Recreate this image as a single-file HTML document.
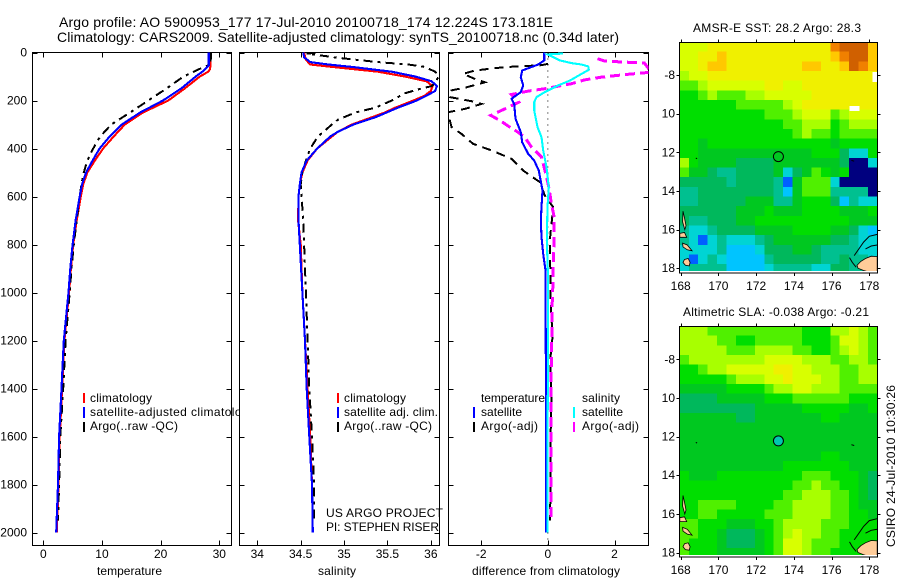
<!DOCTYPE html>
<html>
<head>
<meta charset="utf-8">
<title>Argo profile</title>
<style>
html,body{margin:0;padding:0;background:#fff;}
svg{display:block;}
text{font-family:"Liberation Sans",sans-serif;font-size:12px;fill:#000;}
</style>
</head>
<body>
<svg id="chart" xmlns="http://www.w3.org/2000/svg" width="900" height="580" viewBox="0 0 900 580">
<defs>
<clipPath id="clip-temp"><rect x="32.5" y="52.5" width="199" height="493"/></clipPath>
<clipPath id="clip-sal"><rect x="239.5" y="52.5" width="200" height="493"/></clipPath>
<clipPath id="clip-diff"><rect x="448.5" y="52.5" width="200" height="493"/></clipPath>
<clipPath id="clip-sst"><rect x="679.5" y="42" width="198" height="229"/></clipPath>
<clipPath id="clip-sla"><rect x="679.5" y="326" width="198" height="229"/></clipPath>
</defs>
<rect width="900" height="580" fill="#fff"/>

<g id="panel-temp">
  <g id="marks-temp"></g>
  <text x="97" y="575" textLength="65">temperature</text>
  <rect x="83" y="393" width="2" height="10" fill="#f00"/>
  <rect x="83" y="407" width="2" height="11" fill="#00f"/>
  <rect x="83" y="422" width="2" height="10" fill="#000"/>
  <text x="90" y="402" textLength="62">climatology</text>
  <text x="90" y="416" textLength="165">satellite-adjusted climatology</text>
  <text x="90" y="430" textLength="88">Argo(..raw -QC)</text>
</g>

<g id="panel-sal">
  <rect x="239" y="48" width="201" height="498" fill="#fff"/>
  <g id="marks-sal"></g>
  <text x="318" y="575" textLength="38">salinity</text>
  <rect x="337" y="393" width="2" height="10" fill="#f00"/>
  <rect x="337" y="407" width="2" height="11" fill="#00f"/>
  <rect x="337" y="422" width="2" height="10" fill="#000"/>
  <text x="344" y="402" textLength="62">climatology</text>
  <text x="344" y="416" textLength="94">satellite adj. clim.</text>
  <text x="344" y="430" textLength="88">Argo(..raw -QC)</text>
  <text x="326" y="517" textLength="117">US ARGO PROJECT</text>
  <text x="326" y="531" textLength="113">PI: STEPHEN RISER</text>
</g>

<g id="panel-diff">
  <rect x="448" y="48" width="201" height="498" fill="#fff"/>
  <g id="marks-diff"></g>
  <text x="472" y="575" textLength="148">difference from climatology</text>
  <text x="481" y="402" textLength="64">temperature</text>
  <rect x="473" y="407" width="2" height="11" fill="#00f"/>
  <rect x="473" y="422" width="2" height="10" fill="#000"/>
  <text x="481" y="416" textLength="41">satellite</text>
  <text x="481" y="430" textLength="57">Argo(-adj)</text>
  <text x="582" y="402" textLength="38">salinity</text>
  <rect x="573" y="407" width="2" height="11" fill="#0ff"/>
  <rect x="573" y="422" width="2" height="10" fill="#f0f"/>
  <text x="582" y="416" textLength="41">satellite</text>
  <text x="582" y="430" textLength="57">Argo(-adj)</text>
</g>

<text x="59" y="27" style="font-size:14px" textLength="494">Argo profile: AO 5900953_177 17-Jul-2010 20100718_174 12.224S 173.181E</text>
<text x="57" y="42" style="font-size:14px" textLength="562">Climatology: CARS2009. Satellite-adjusted climatology: synTS_20100718.nc (0.34d later)</text>

<text x="693" y="32" textLength="168">AMSR-E SST: 28.2 Argo: 28.3</text>
<g id="map-sst"></g>
<text x="683" y="316" textLength="186">Altimetric SLA: -0.038 Argo: -0.21</text>
<g id="map-sla"></g>
<text transform="translate(895,547) rotate(-90)" textLength="162">CSIRO 24-Jul-2010 10:30:26</text>
</svg>

<script>
// ---- profile data ----
var depthTicks = [0,200,400,600,800,1000,1200,1400,1600,1800,2000];
var tempTicks = [0,10,20,30];
var salTicks = [34,34.5,35,35.5,36];
var salTickLabels = ['34','34.5','35','35.5','36'];
var diffTicks = [-2,0,2];

var tempDepths = [0,55,70,80,100,150,200,250,300,350,400,450,500,550,600,700,800,900,1000,1200,1400,1600,1800,2000];
var tempClim = [28.5,28.5,28.4,28.1,26.7,24.1,21.3,17,13.9,12,10.2,8.8,7.5,6.8,6.4,5.7,5.1,4.7,4.4,3.6,3.2,2.8,2.6,2.3];
var tempSat = [28.2,28.2,27.6,27.1,26,23.5,20.4,16.5,13.4,11.3,9.6,8.4,7.3,6.6,6.2,5.5,5,4.6,4.3,3.5,3.1,2.7,2.5,2.2];
var tempArgoDepths = [0,50,68,100,150,200,250,300,350,400,450,500,550,600,700,800,900,1000,1200,1400,1600,1800,1950];
var tempArgo = [28.6,28.5,26.7,23.9,21,17.9,14.8,11.6,9.7,8.5,7.5,6.9,6.5,6.2,5.7,5.2,4.8,4.5,3.8,3.4,2.9,2.7,2.5];

var salDepths = [0,30,50,60,80,100,120,140,160,180,200,230,250,270,300,330,350,400,450,500,550,600,700,800,1000,1200,1400,1600,1800,2000];
var salClim = [34.54,34.56,34.61,34.86,35.39,35.70,35.95,36.02,36.0,35.93,35.80,35.59,35.47,35.32,35.09,34.93,34.86,34.69,34.58,34.52,34.49,34.475,34.47,34.50,34.52,34.55,34.58,34.61,34.63,34.64];
var salSatDepths = [0,20,40,50,60,80,100,120,140,160,180,200,230,250,270,300,330,350,400,450,500,550,600,700,800,1000,1200,1400,1600,1800,2000];
var salSat = [34.53,34.54,34.61,34.82,35.09,35.55,35.82,36.01,36.07,36.05,35.95,35.84,35.62,35.49,35.36,35.11,34.93,34.84,34.69,34.57,34.51,34.49,34.475,34.475,34.49,34.52,34.55,34.57,34.60,34.63,34.64];
var salArgoDepths = [2,4,22,40,50,60,80,100,120,140,150,170,200,230,250,280,300,350,400,450,500,550,600,700,800,1000,1200,1400,1600,1800,1950];
var salArgo = [34.67,34.57,34.93,35.39,35.74,35.93,36.05,36.09,36.06,36.01,35.89,35.7,35.55,35.36,35.13,34.93,34.86,34.7,34.61,34.56,34.52,34.5,34.51,34.53,34.54,34.56,34.58,34.60,34.63,34.655,34.655];

var diffBlueDepths = [0,33,50,75,103,137,165,193,214,276,332,374,422,450,492,575,644,700,769,839,908,1256,1300,2000];
var diffBlue = [-0.11,-0.11,-0.29,-0.77,-0.81,-0.74,-0.81,-1.09,-1.01,-0.97,-0.81,-0.77,-0.59,-0.41,-0.27,-0.16,-0.19,-0.21,-0.19,-0.14,-0.07,-0.06,-0.05,-0.05];
var diffCyanDepths = [4,8,33,44,50,58,72,89,117,137,165,186,207,242,311,353,408,478,561,644,783,908,1186,1617,2000];
var diffCyan = [0.46,0.0,0.36,0.71,1.01,1.21,1.23,1.01,0.66,0.31,-0.09,-0.34,-0.41,-0.41,-0.31,-0.19,-0.14,-0.04,0.03,-0.01,-0.03,0.0,0.01,-0.01,-0.01];
var diffMagentaDepths = [26,36,44,82,92,103,114,130,151,161,175,207,235,262,283,311,328,353,394,436,505,561,631,686,783,839,978,1047,1186,1325,1464,1603,1950];
var diffMagenta = [1.49,1.71,2.9,3.1,2.31,1.6,1.1,0.71,-0.09,-0.59,-1.09,-0.87,-1.29,-1.71,-1.44,-1.14,-0.94,-0.69,-0.49,-0.19,-0.06,0.03,0.11,0.19,0.19,0.17,0.15,0.13,0.12,0.1,0.1,0.1,0.09];
var diffBlackDepths = [47,53,61,75,89,110,124,145,158,186,203,214,235,249,311,339,381,408,443,492,540,596,644,714,783,880,1047,1186,1280,1464,1603,1950];
var diffBlack = [0.01,-0.19,-1.29,-2.19,-2.54,-2.19,-1.89,-2.44,-2.89,-2.94,-2.29,-1.99,-2.49,-3,-2.89,-2.59,-2.24,-1.69,-1.09,-0.74,-0.24,-0.09,0.16,0.11,0.06,0.07,0.09,0.14,0.07,0.11,0.08,0.07];

// ---- map data: colour-level grid, 0.5 degree cells, north to south ----
var mapLonTicks = [168,170,172,174,176,178];
var mapLatTicks = [-8,-10,-12,-14,-16,-18];
var mapLatLabels = ['-8','10','12','14','16','18'];
var levelColors = ['#00007f','#0060ff','#00c4ff','#00d4d4','#00c090','#00b85c','#00c820','#00de00','#50f000','#a8ff00','#d8ff00','#f0f000','#ffc800','#f08000','#d06000','#ffffff'];

var sstRows = [
[10,10,10,11,11,11,11,11,11,11,11,11,11,11,11,11,13,14,14,14,12],
[10,10,11,11,12,11,11,11,11,11,11,11,11,11,11,11,12,13,14,14,12],
[10,10,11,12,12,11,11,11,11,11,11,11,11,12,12,11,11,12,14,13,12],
[9,10,10,11,11,11,11,11,11,11,11,11,11,11,11,11,11,11,11,11,11],
[8,8,9,10,10,10,10,10,10,11,11,10,10,11,11,11,11,11,11,11,11],
[7,7,8,9,8,8,8,9,9,10,10,10,10,10,11,11,11,11,11,11,11],
[7,7,7,7,7,7,8,8,8,8,8,9,10,11,11,11,11,11,11,11,11],
[7,7,7,7,7,7,7,7,7,8,8,8,9,10,10,10,8,9,10,10,10],
[7,7,7,7,7,7,7,7,7,7,7,8,8,9,9,9,7,8,9,9,9],
[7,7,7,7,7,7,7,7,7,7,7,7,8,9,8,8,7,8,8,8,8],
[7,7,6,7,7,7,7,7,7,7,7,7,7,7,7,7,6,7,7,7,7],
[7,7,6,6,6,6,6,6,6,6,6,6,6,6,7,7,7,5,3,3,7],
[9,7,6,6,6,6,5,5,5,5,6,6,6,6,6,6,6,5,0,0,3],
[8,6,6,5,4,4,5,5,5,5,6,3,5,6,8,7,6,7,0,0,0],
[5,5,5,5,5,4,5,5,5,5,4,1,6,8,8,8,3,0,0,0,0],
[4,4,5,5,5,5,5,5,5,5,4,2,6,8,8,8,4,4,4,4,0],
[4,4,5,5,5,5,5,6,6,6,4,4,6,7,7,7,5,2,4,3,3],
[5,5,5,5,5,5,6,6,6,7,6,6,6,7,7,7,7,6,6,6,7],
[5,4,4,5,5,5,6,6,7,7,7,7,7,7,7,7,7,7,6,6,6],
[4,3,3,4,5,5,5,5,6,6,6,6,7,7,7,7,6,6,5,3,2],
[4,3,1,3,4,3,3,3,4,5,6,6,6,6,6,6,5,5,4,3,3],
[3,3,3,3,4,2,2,2,3,5,5,5,6,6,5,4,4,4,4,3,3],
[3,1,3,4,3,2,2,2,2,4,5,5,5,5,5,4,4,5,4,4,3],
[3,4,4,4,4,2,2,2,2,3,4,4,4,4,3,3,5,5,4,4,3]
];
var slaRows = [
[9,9,9,8,8,8,8,8,8,8,8,8,8,7,7,7,9,9,10,9,8],
[9,9,9,9,8,8,7,7,8,8,8,8,8,7,7,7,8,10,10,9,8],
[9,9,9,9,9,8,8,8,9,9,9,9,8,8,7,7,8,9,10,9,8],
[8,9,9,9,9,9,9,9,9,10,10,10,10,9,9,9,8,8,9,9,8],
[7,7,8,9,9,10,10,10,10,10,11,11,10,10,9,9,9,8,8,9,9],
[7,7,7,7,7,8,9,9,9,10,10,11,10,10,10,9,9,8,8,9,9],
[6,6,6,6,6,7,7,7,7,8,9,9,10,10,9,9,9,8,8,8,8],
[5,5,5,5,6,6,6,6,6,7,7,7,8,8,8,8,8,8,7,7,7],
[5,5,5,5,5,5,5,5,6,6,6,6,6,7,7,7,7,7,6,6,7],
[6,6,6,6,6,6,5,5,6,6,6,6,6,6,6,7,7,6,6,6,6],
[6,6,6,6,6,6,6,6,6,6,6,6,6,6,6,6,6,6,6,6,6],
[6,6,6,6,6,6,6,6,6,6,6,6,6,6,6,6,6,6,6,6,6],
[6,6,6,6,6,6,6,6,6,6,6,6,6,6,6,6,6,6,6,6,6],
[6,6,6,6,6,6,6,6,6,6,6,6,6,6,6,7,7,6,6,6,6],
[6,6,6,6,6,6,6,6,6,6,6,7,7,7,7,7,7,7,6,6,6],
[7,6,6,6,7,7,7,7,7,7,7,7,7,8,8,8,7,7,7,6,5],
[7,7,7,7,7,7,7,7,7,7,7,7,8,8,9,8,8,7,7,6,5],
[7,7,7,7,7,7,7,7,7,7,7,8,8,9,9,9,8,8,7,6,5],
[7,7,8,8,8,8,7,7,7,7,8,8,9,9,9,9,8,8,7,6,6],
[7,7,8,8,7,7,7,7,7,8,8,8,9,9,9,9,8,8,7,7,6],
[8,8,7,7,7,6,6,6,7,7,8,9,9,9,9,8,8,8,7,7,7],
[8,8,7,7,6,5,5,5,6,7,8,9,10,9,9,8,8,7,7,7,7],
[8,7,7,7,6,5,5,5,6,7,8,10,10,9,8,8,8,7,7,7,7],
[8,7,7,7,6,6,6,6,6,7,8,10,10,9,8,8,7,7,7,7,7]
];
// missing-data patches in the SST map: west lon, east lon, north lat, south lat
var sstMissingWest = [176.95,178.17];
var sstMissingEast = [177.47,178.42];
var sstMissingNorth = [-9.6,-7.85];
var sstMissingSouth = [-9.86,-8.37];

var landLonLat = [
 [[178.42,-17.4],[178.1,-17.38],[177.8,-17.5],[177.55,-17.65],[177.35,-17.85],[177.4,-18.0],[177.7,-18.12],[178.0,-18.2],[178.42,-18.2]],
 [[168.2,-17.55],[168.4,-17.5],[168.5,-17.7],[168.45,-17.88],[168.25,-17.85],[168.12,-17.7]],
 [[168.12,-15.05],[168.2,-15.4],[168.28,-15.8],[168.22,-16.0],[168.1,-15.6]],
 [[167.95,-16.2],[168.2,-16.15],[168.32,-16.4],[167.95,-16.4]],
 [[168.1,-16.7],[168.35,-16.8],[168.6,-17.1],[168.35,-17.05],[168.12,-16.9]]
];
var coastLonLat = [
 [[177.2,-17.35],[177.45,-17.0],[177.7,-16.65],[178.0,-16.35],[178.42,-16.25]],
 [[177.8,-17.0],[178.1,-16.85],[178.42,-16.8]],
 [[176.95,-17.45],[177.1,-17.7],[177.3,-17.95]],
 [[168.8,-12.3],[168.87,-12.33]],
 [[177.05,-12.42],[177.2,-12.46]]
];
var argoLon = 173.181;
var argoLat = -12.224;

// ---- helpers ----
var NS = 'http://www.w3.org/2000/svg';
function scale(d0, d1, r0, r1) {
  return function (v) { return r0 + (v - d0) * (r1 - r0) / (d1 - d0); };
}
function make(parent, tag, attrs) {
  var el = document.createElementNS(NS, tag);
  for (var k in attrs) el.setAttribute(k, attrs[k]);
  parent.appendChild(el);
  return el;
}
var yDepth = scale(0, 2054, 52.5, 545.5);

function drawProfile(g, clip, xf, depths, vals, color, width, dash, name) {
  var pts = [];
  for (var i = 0; i < vals.length; i++) pts.push(xf(vals[i]).toFixed(1) + ',' + yDepth(depths[i]).toFixed(1));
  var el = make(g, 'polyline', {points: pts.join(' '), fill: 'none', stroke: color, 'stroke-width': width, 'shape-rendering': 'crispEdges', 'clip-path': 'url(#' + clip + ')'});
  if (dash) el.setAttribute('stroke-dasharray', dash);
  
  
}

function drawPanelAxes(g, left, right, xf, ticks, labels, showDepthLabels, panelName) {
  var frame = make(g, 'rect', {x: left, y: 52.5, width: right - left, height: 493, fill: 'none', stroke: '#000', 'stroke-width': 1});
  
  
  ticks.forEach(function (t, i) {
    var x = Math.round(xf(t)) + 0.5;
    var tk = make(g, 'path', {d: 'M' + x + ' 52.5v5M' + x + ' 545.5v-5', stroke: '#000', 'stroke-width': 1, fill: 'none'});
    
    
    var lb = make(g, 'text', {x: xf(t), y: 558, 'text-anchor': 'middle'});
    lb.textContent = labels[i];
    
    
  });
  depthTicks.forEach(function (d) {
    var y = Math.round(yDepth(d)) + 0.5;
    var tk = make(g, 'path', {d: 'M' + left + ' ' + y + 'h5M' + right + ' ' + y + 'h-5', stroke: '#000', 'stroke-width': 1, fill: 'none'});
    
    
    if (showDepthLabels) {
      var lb = make(g, 'text', {x: 27, y: yDepth(d) + 4, 'text-anchor': 'end'});
      lb.textContent = String(d);
      
      
    }
  });
}

function drawMap(g, clip, rows, top, bottom, yAt8, name, filledMarker) {
  var xLon = scale(168, 178, 680.7, 869.3);
  var yLat = scale(-8, -18, yAt8, yAt8 + 193.2);
  var lon0 = 167.93, lat0 = -8 + (yAt8 - top) / 19.32;
  var cells = make(g, 'g', {'clip-path': 'url(#' + clip + ')', 'shape-rendering': 'crispEdges'});
  
  
  rows.forEach(function (row, j) {
    row.forEach(function (lv, i) {
      var x0 = xLon(lon0 + 0.5 * i), x1 = xLon(lon0 + 0.5 * (i + 1));
      var y0 = yLat(lat0 - 0.5 * j), y1 = yLat(lat0 - 0.5 * (j + 1));
      var c = make(cells, 'rect', {x: x0.toFixed(2), y: y0.toFixed(2), width: (x1 - x0 + 0.4).toFixed(2), height: (y1 - y0 + 0.4).toFixed(2), fill: levelColors[lv]});
      
      
    });
  });
  if (name === 'sst-map') {
    sstMissingWest.forEach(function (w, i) {
      var m = make(cells, 'rect', {x: xLon(w), y: yLat(sstMissingNorth[i]), width: xLon(sstMissingEast[i]) - xLon(w), height: yLat(sstMissingSouth[i]) - yLat(sstMissingNorth[i]), fill: '#fff'});
      
      
    });
  }
  var overlay = make(g, 'g', {'clip-path': 'url(#' + clip + ')'});
  
  
  landLonLat.forEach(function (poly) {
    var pts = poly.map(function (p) { return xLon(p[0]).toFixed(1) + ',' + yLat(p[1]).toFixed(1); }).join(' ');
    var el = make(overlay, 'polygon', {points: pts, fill: '#ffcc99', stroke: '#000', 'stroke-width': 0.8});
    
    
  });
  coastLonLat.forEach(function (line) {
    var pts = line.map(function (p) { return xLon(p[0]).toFixed(1) + ',' + yLat(p[1]).toFixed(1); }).join(' ');
    var el = make(overlay, 'polyline', {points: pts, fill: 'none', stroke: '#000', 'stroke-width': 1});
    
    
  });
  var mk = make(g, 'circle', {cx: xLon(argoLon), cy: yLat(argoLat), r: 5, fill: filledMarker || 'none', stroke: '#000', 'stroke-width': 1});
  
  
  var frame = make(g, 'rect', {x: 679.5, y: top + 0.5, width: 198, height: bottom + 1.5 - top, fill: 'none', stroke: '#000', 'stroke-width': 1});
  
  
  mapLonTicks.forEach(function (t) {
    var x = Math.round(xLon(t)) + 0.5;
    var tk = make(g, 'path', {d: 'M' + x + ' ' + (top + 0.5) + 'v-3M' + x + ' ' + (bottom + 2) + 'v3', stroke: '#000', 'stroke-width': 1, fill: 'none'});
    
    
    var lb = make(g, 'text', {x: xLon(t), y: bottom + 19, 'text-anchor': 'middle'});
    lb.textContent = String(t);
    
    
  });
  mapLatTicks.forEach(function (t, i) {
    var y = Math.round(yLat(t)) + 0.5;
    var tk = make(g, 'path', {d: 'M679.5 ' + y + 'h-3M877.5 ' + y + 'h3', stroke: '#000', 'stroke-width': 1, fill: 'none'});
    
    
    var lb = make(g, 'text', {x: 675, y: yLat(t) + 4, 'text-anchor': 'end'});
    lb.textContent = mapLatLabels[i];
    
    
  });
}

// ---- draw ----
var gT = document.getElementById('marks-temp');
var xT = scale(-1.84, 32.08, 32.5, 231.5);
drawPanelAxes(gT, 32.5, 231.5, xT, tempTicks, tempTicks.map(String), true, 'temperature');
drawProfile(gT, 'clip-temp', xT, tempDepths, tempClim, '#f00', 2.1, null, 'temperature-climatology-line');
drawProfile(gT, 'clip-temp', xT, tempArgoDepths, tempArgo, '#000', 2, '9 5 3 5', 'temperature-argo-line');
drawProfile(gT, 'clip-temp', xT, tempDepths, tempSat, '#00f', 2.1, null, 'temperature-satellite-line');

var gS = document.getElementById('marks-sal');
var xS = scale(33.795, 36.1, 239.5, 439.5);
drawPanelAxes(gS, 239.5, 439.5, xS, salTicks, salTickLabels, false, 'salinity');
drawProfile(gS, 'clip-sal', xS, salDepths, salClim, '#f00', 2.1, null, 'salinity-climatology-line');
drawProfile(gS, 'clip-sal', xS, salArgoDepths, salArgo, '#000', 2, '9 5 3 5', 'salinity-argo-line');
drawProfile(gS, 'clip-sal', xS, salSatDepths, salSat, '#00f', 2.1, null, 'salinity-satellite-line');

var gD = document.getElementById('marks-diff');
var xD = scale(-2.98, 3.02, 448.5, 648.5);
drawPanelAxes(gD, 448.5, 648.5, xD, diffTicks, ['-2','0','2'], false, 'difference');
var zeroLine = make(gD, 'line', {x1: xD(0), x2: xD(0), y1: 52.5, y2: 545.5, stroke: '#000', 'stroke-width': 1, 'stroke-dasharray': '1 5'});


drawProfile(gD, 'clip-diff', xD, diffBlackDepths, diffBlack, '#000', 2, '9 6', 'difference-temp-argo-line');
drawProfile(gD, 'clip-diff', xD, diffMagentaDepths, diffMagenta, '#f0f', 3, '10 5', 'difference-sal-argo-line');
drawProfile(gD, 'clip-diff', xD, diffBlueDepths, diffBlue, '#00f', 2.1, null, 'difference-temp-satellite-line');
drawProfile(gD, 'clip-diff', xD, diffCyanDepths, diffCyan, '#0ff', 2.1, null, 'difference-sal-satellite-line');

drawMap(document.getElementById('map-sst'), 'clip-sst', sstRows, 42, 271, 75, 'sst-map', null);
drawMap(document.getElementById('map-sla'), 'clip-sla', slaRows, 326, 555, 359.3, 'sla-map', '#00c8b0');
</script>
</body>
</html>
